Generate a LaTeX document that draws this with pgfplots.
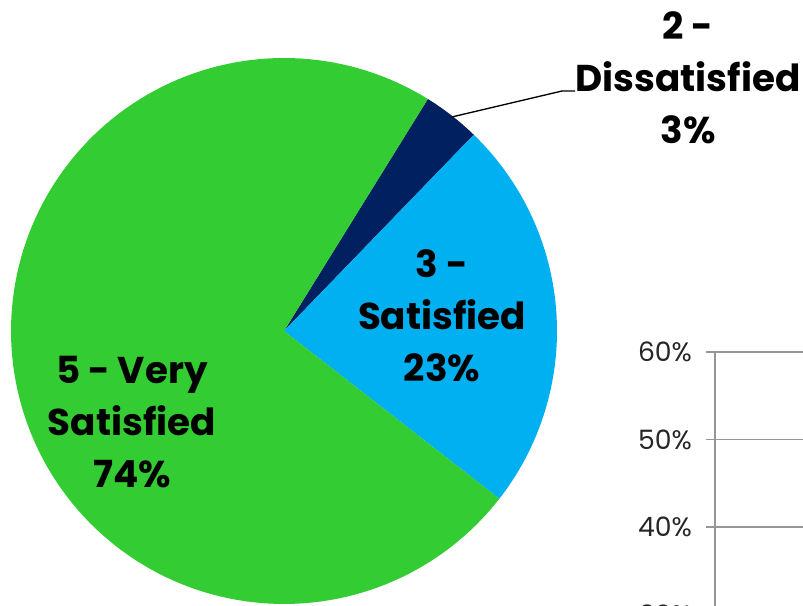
\documentclass[border=0pt]{standalone}
\usepackage{fontspec}
\setmainfont{Poppins}
\usepackage{pgfplots}
\pgfplotsset{compat=1.18}
\definecolor{cgreen}{RGB}{51,204,51}
\definecolor{cblue}{RGB}{0,176,240}
\definecolor{cnavy}{RGB}{0,32,96}
\definecolor{gridgray}{RGB}{150,150,150}
\begin{document}
\begin{tikzpicture}
\path[use as bounding box] (0pt,0pt) rectangle (602.25pt,454.5pt);
\clip (0pt,0pt) rectangle (602.25pt,454.5pt);
% ---- pie: shares in percent (2 - Dissatisfied 3.4, 3 - Satisfied 23.3, 5 - Very Satisfied 73.3)
% first slice starts at 58.2 deg and slices run clockwise; 1% = 3.6 deg
\begin{axis}[
  at={(213pt,206.25pt)}, anchor=center,
  scale only axis, width=409.5pt, height=409.5pt,
  xmin=-1, xmax=1, ymin=-1, ymax=1,
  hide axis, clip=false,
  font=\fontsize{28}{39}\selectfont\bfseries,
]
% 2 - Dissatisfied: 3.4%
\addplot[fill=cnavy, draw=none, domain={58.2-3.6*3.4}:58.2, samples=20, variable=\t]
  ({cos(\t)},{sin(\t)}) -- (axis cs:0,0) -- cycle;
% 3 - Satisfied: 23.3%
\addplot[fill=cblue, draw=none, domain={58.2-3.6*(3.4+23.3)}:{58.2-3.6*3.4}, samples=60, variable=\t]
  ({cos(\t)},{sin(\t)}) -- (axis cs:0,0) -- cycle;
% 5 - Very Satisfied: 73.3%
\addplot[fill=cgreen, draw=none, domain={58.2-360}:{58.2-3.6*(3.4+23.3)}, samples=150, variable=\t]
  ({cos(\t)},{sin(\t)}) -- (axis cs:0,0) -- cycle;
% leader line
\addplot[black, line width=1pt, mark=none] coordinates {(0.615,0.784) (1.018,0.879) (1.066,0.879)};
\node[align=center, inner sep=0pt] at (axis cs:0.579,0.055) {3 -\\Satisfied\\23\%};
\node[align=center, inner sep=0pt] at (axis cs:-0.557,-0.335) {5 - Very\\Satisfied\\74\%};
\node[align=center, inner sep=0pt] at (axis cs:1.480,0.929) {2 -\\Dissatisfied\\3\%};
\end{axis}
% ---- partially visible second chart
\begin{axis}[
  at={(536.25pt,190.5pt)}, anchor=north west,
  scale only axis, width=300pt, height=393.75pt,
  xmin=0, xmax=1, ymin=0, ymax=60,
  axis x line=none, axis y line*=left,
  ytick={0,10,...,60}, xtick=\empty,
  yticklabel={\pgfmathprintnumber{\tick}\%},
  /pgf/number format/assume math mode=true,
  ymajorgrids, grid style={gridgray, line width=1pt},
  tick align=outside, major tick length=6.75pt,
  tick style={gridgray, line width=1pt},
  y axis line style={gridgray, line width=1pt},
  yticklabel style={font=\fontsize{20}{20}\selectfont, text=black!85, xshift=-7pt},
]
\addplot[draw=none] coordinates {(0,0) (1,60)};
\end{axis}
\end{tikzpicture}
\end{document}
